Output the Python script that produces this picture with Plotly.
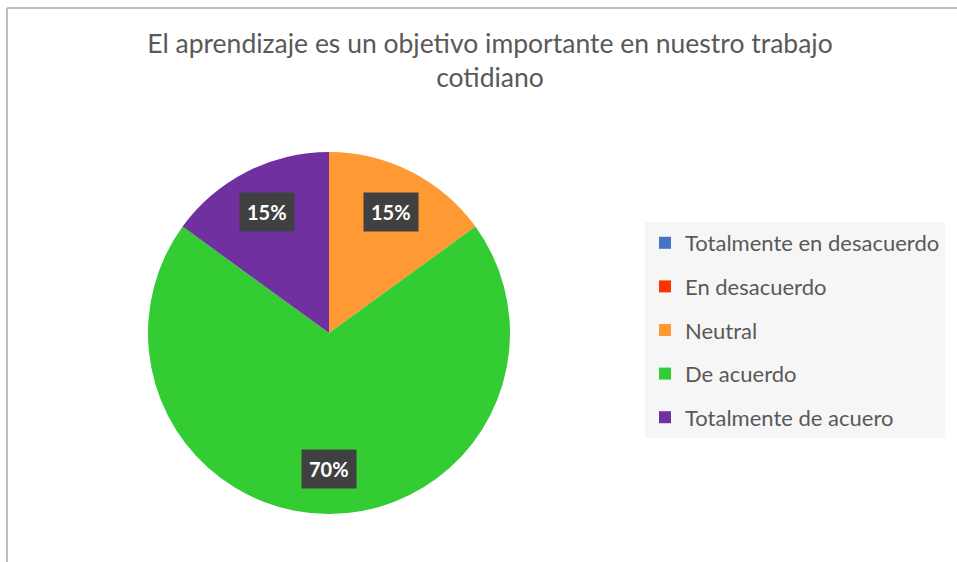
import math
import plotly.graph_objects as go

# Survey answers for the statement in the title
categories = ["Totalmente en desacuerdo", "En desacuerdo", "Neutral", "De acuerdo", "Totalmente de acuero"]
values = [0, 0, 3, 14, 3]
colors = ["#4472C4", "#FF3300", "#FF9933", "#33CC33", "#7030A0"]
title_lines = ["El aprendizaje es un objetivo importante en nuestro trabajo", "cotidiano"]

W, H = 957, 562
cx, cy, R = 329, 333, 181  # pie centre and radius in pixels
FONT = "Lato, 'Open Sans', sans-serif"
GREY = "#595959"

fig = go.Figure()

fig.add_trace(go.Pie(
    labels=categories,
    values=values,
    marker=dict(colors=colors, line=dict(width=0)),
    sort=False,
    direction="clockwise",
    rotation=0,
    textinfo="none",
    hoverinfo="label+percent",
    showlegend=False,
    domain=dict(x=[(cx - R) / W, (cx + R) / W], y=[1 - (cy + R) / H, 1 - (cy - R) / H]),
))

# Legend entries (one group each so the vertical spacing can be set)
for cat, col in zip(categories, colors):
    fig.add_trace(go.Scatter(
        x=[None], y=[None], mode="markers",
        marker=dict(symbol="square", size=10, color=col),
        name=cat, legendgroup=cat, showlegend=True,
    ))

# Percentage labels in dark boxes, placed at each slice's mid angle
total = sum(values)
annotations = []
cum = 0
for v in values:
    if v > 0:
        theta = 2 * math.pi * (cum + v / 2) / total
        px = cx + 0.75 * R * math.sin(theta)
        py = cy - 0.75 * R * math.cos(theta)
        annotations.append(dict(
            x=px / W, y=1 - py / H, xref="paper", yref="paper",
            xanchor="center", yanchor="middle",
            text=f"<b>{round(100 * v / total)}%</b>", showarrow=False,
            font=dict(family=FONT, size=20, color="white"),
            bgcolor="#404040", borderpad=7,
        ))
    cum += v

# Chart frame (top and left edges)
shapes = [
    dict(type="line", xref="paper", yref="paper", x0=7 / W, y0=0, x1=7 / W, y1=1 - 8 / H,
         line=dict(color="#BFBFBF", width=2)),
    dict(type="line", xref="paper", yref="paper", x0=7 / W, y0=1 - 8 / H, x1=1, y1=1 - 8 / H,
         line=dict(color="#BFBFBF", width=2)),
]

fig.update_layout(
    width=W, height=H,
    margin=dict(l=0, r=0, t=0, b=0),
    paper_bgcolor="white", plot_bgcolor="white",
    title=dict(text="<br>".join(title_lines), x=490 / W, xanchor="center",
               y=1 - 53 / H, yanchor="top", yref="container",
               font=dict(family=FONT, size=26.5, color=GREY)),
    xaxis=dict(visible=False), yaxis=dict(visible=False),
    legend=dict(x=645 / W, y=1 - 222 / H, xanchor="left", yanchor="top",
                bgcolor="#F6F6F6", font=dict(family=FONT, size=22, color=GREY),
                tracegroupgap=12, itemsizing="constant"),
    annotations=annotations,
    shapes=shapes,
)

fig.write_html("out.html")
